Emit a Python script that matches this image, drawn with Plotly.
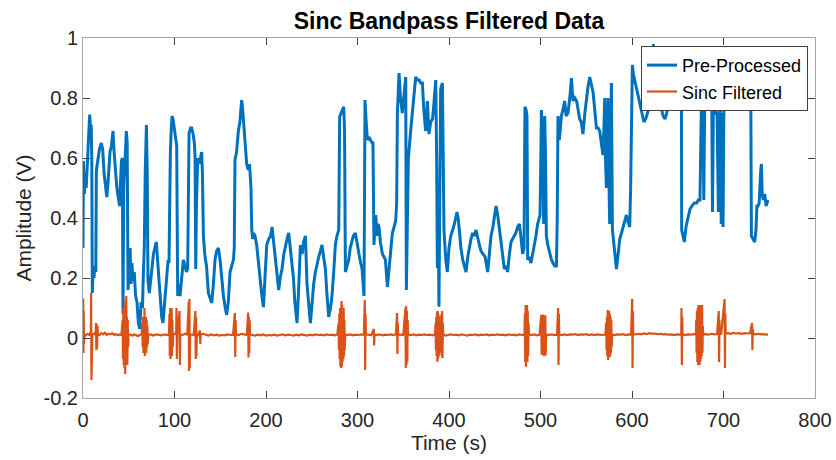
import plotly.graph_objects as go

# ---------------- data ----------------
# Pre-processed signal: (time s, amplitude V)
preprocessed = [
    (0.0, 0.30), (0.5, 0.59), (1.5, 0.48), (2.5, 0.55), (3.5, 0.50), (4.5, 0.58), (5.5, 0.66), (6.5, 0.70),
    (7.3, 0.745), (8.2, 0.70), (9.0, 0.71), (9.6, 0.60), (10.2, 0.15), (11.0, 0.23), (12.0, 0.20), (13.0, 0.24),
    (14.0, 0.22), (14.6, 0.56), (15.5, 0.58), (16.5, 0.60), (18.0, 0.63), (20.0, 0.65), (21.5, 0.63), (23.0, 0.55),
    (24.5, 0.51), (26.0, 0.47), (27.4, 0.52), (28.5, 0.58), (29.5, 0.62), (31.0, 0.64), (32.8, 0.69), (34.0, 0.62),
    (35.5, 0.55), (37.0, 0.50), (38.5, 0.47), (40.0, 0.44), (41.0, 0.52), (42.0, 0.59), (43.0, 0.60), (43.7, 0.08),
    (44.5, 0.50), (45.5, 0.58), (47.4, 0.69), (48.3, 0.65), (49.2, 0.16), (50.5, 0.22), (51.5, 0.30), (52.5, 0.18),
    (53.5, 0.25), (54.6, 0.19), (56.0, 0.22), (57.5, 0.14), (59.0, 0.12), (60.5, 0.05), (62.0, 0.03), (63.5, 0.12),
    (65.0, 0.10), (66.0, 0.22), (67.0, 0.30), (68.0, 0.55), (69.3, 0.71), (70.2, 0.55), (71.0, 0.19), (72.5, 0.15),
    (74.0, 0.20), (75.5, 0.24), (77.0, 0.28), (78.5, 0.30), (80.2, 0.32), (81.5, 0.26), (83.0, 0.20), (84.5, 0.12),
    (86.0, 0.07), (87.4, 0.05), (88.5, 0.09), (90.0, 0.15), (91.5, 0.22), (93.0, 0.26), (94.0, 0.25), (94.8, 0.55),
    (95.5, 0.62), (96.5, 0.70), (97.3, 0.74), (98.4, 0.73), (99.5, 0.70), (100.5, 0.68), (101.5, 0.66), (102.4, 0.64),
    (103.5, 0.14), (105.0, 0.18), (106.0, 0.14), (107.5, 0.20), (109.7, 0.26), (111.5, 0.24), (113.0, 0.22), (114.4, 0.23),
    (115.2, 0.60), (115.9, 0.683), (117.5, 0.70), (118.8, 0.70), (120.3, 0.68), (121.7, 0.65), (122.5, 0.60), (123.2, 0.23),
    (124.0, 0.45), (125.4, 0.60), (127.0, 0.58), (128.5, 0.61), (129.7, 0.62), (130.5, 0.55), (131.6, 0.337), (133.4, 0.27),
    (135.0, 0.24), (137.0, 0.15), (139.0, 0.13), (140.7, 0.117), (142.5, 0.18), (144.3, 0.26), (146.0, 0.29), (148.0, 0.30),
    (149.8, 0.26), (151.6, 0.19), (153.5, 0.14), (155.5, 0.10), (157.0, 0.077), (158.8, 0.12), (160.7, 0.22), (162.5, 0.24),
    (164.4, 0.26), (165.3, 0.30), (166.1, 0.593), (167.8, 0.62), (169.8, 0.69), (171.5, 0.72), (173.4, 0.793), (174.3, 0.77),
    (175.3, 0.73), (177.0, 0.66), (178.9, 0.58), (180.5, 0.56), (182.0, 0.58), (183.6, 0.50), (184.4, 0.36), (185.5, 0.33),
    (186.5, 0.35), (188.0, 0.34), (189.8, 0.31), (191.5, 0.26), (193.4, 0.19), (195.5, 0.14), (197.2, 0.103), (199.0, 0.20),
    (200.8, 0.31), (203.0, 0.33), (205.0, 0.34), (206.6, 0.37), (208.5, 0.31), (210.3, 0.26), (212.0, 0.22), (213.9, 0.16),
    (215.5, 0.20), (217.5, 0.23), (219.5, 0.28), (221.2, 0.31), (223.0, 0.33), (224.8, 0.35), (226.5, 0.30), (228.4, 0.26),
    (230.0, 0.20), (231.5, 0.12), (233.9, 0.05), (235.5, 0.15), (237.6, 0.31), (239.5, 0.28), (241.0, 0.32), (243.1, 0.34),
    (244.8, 0.18), (246.5, 0.12), (248.5, 0.05), (250.5, 0.12), (252.1, 0.18), (254.0, 0.22), (255.8, 0.25), (257.6, 0.27),
    (259.5, 0.29), (261.2, 0.31), (263.0, 0.27), (264.9, 0.23), (266.5, 0.15), (268.5, 0.07), (270.5, 0.10), (272.1, 0.14),
    (274.0, 0.22), (275.8, 0.31), (277.5, 0.34), (279.5, 0.36), (280.5, 0.738), (282.0, 0.75), (283.5, 0.76), (284.9, 0.771),
    (285.8, 0.70), (286.8, 0.22), (288.5, 0.24), (290.4, 0.26), (292.0, 0.30), (294.0, 0.33), (295.5, 0.34), (297.7, 0.35),
    (299.5, 0.31), (301.6, 0.28), (303.5, 0.25), (305.0, 0.23), (307.1, 0.14), (308.2, 0.793), (309.5, 0.72), (310.8, 0.66),
    (312.5, 0.67), (314.0, 0.66), (316.0, 0.65), (316.9, 0.65), (318.0, 0.31), (319.9, 0.41), (321.5, 0.34), (322.5, 0.38),
    (323.5, 0.37), (325.0, 0.32), (327.2, 0.28), (329.0, 0.27), (330.5, 0.26), (332.7, 0.17), (334.5, 0.23), (336.0, 0.28),
    (338.1, 0.35), (340.0, 0.37), (341.7, 0.39), (342.8, 0.45), (343.6, 0.75), (345.4, 0.883), (347.0, 0.80), (349.0, 0.75),
    (350.8, 0.80), (352.7, 0.87), (353.4, 0.16), (354.5, 0.40), (355.6, 0.60), (358.1, 0.69), (360.0, 0.75), (361.5, 0.80),
    (363.6, 0.87), (365.5, 0.86), (367.5, 0.86), (369.0, 0.85), (370.9, 0.85), (372.5, 0.76), (374.5, 0.69), (376.4, 0.79),
    (378.1, 0.68), (380.0, 0.72), (382.0, 0.73), (383.5, 0.78), (385.5, 0.86), (386.5, 0.60), (387.3, 0.233), (388.0, 0.50),
    (389.0, 0.104), (390.0, 0.50), (390.9, 0.83), (392.8, 0.85), (393.6, 0.60), (394.5, 0.36), (396.5, 0.26), (398.2, 0.22),
    (400.0, 0.30), (401.9, 0.34), (404.0, 0.36), (405.9, 0.38), (408.7, 0.42), (410.0, 0.40), (411.3, 0.36), (413.0, 0.30),
    (415.0, 0.26), (418.6, 0.22), (420.5, 0.27), (422.3, 0.31), (424.0, 0.33), (425.9, 0.35), (427.5, 0.34), (429.5, 0.36),
    (431.5, 0.33), (433.2, 0.31), (435.0, 0.29), (436.8, 0.28), (439.5, 0.27), (442.3, 0.22), (444.0, 0.28), (445.9, 0.34),
    (448.0, 0.37), (450.0, 0.41), (451.4, 0.44), (453.2, 0.41), (455.0, 0.36), (456.8, 0.32), (458.5, 0.27), (460.5, 0.23),
    (462.5, 0.24), (464.1, 0.22), (466.0, 0.28), (467.8, 0.32), (469.5, 0.33), (471.4, 0.34), (473.0, 0.35), (475.0, 0.37),
    (476.9, 0.38), (478.5, 0.34), (480.5, 0.28), (482.0, 0.30), (483.0, 0.771), (484.3, 0.76), (485.2, 0.74), (486.0, 0.26),
    (487.5, 0.27), (489.6, 0.25), (491.5, 0.28), (493.3, 0.31), (495.0, 0.34), (496.9, 0.38), (498.5, 0.40), (499.5, 0.41),
    (501.0, 0.76), (502.5, 0.60), (503.5, 0.38), (504.6, 0.74), (505.5, 0.60), (506.4, 0.34), (508.0, 0.31), (510.0, 0.28),
    (512.0, 0.26), (513.7, 0.25), (515.5, 0.24), (517.4, 0.24), (518.3, 0.40), (519.1, 0.74), (520.5, 0.66), (521.5, 0.69),
    (522.8, 0.74), (524.5, 0.76), (526.4, 0.79), (528.0, 0.74), (530.0, 0.75), (532.0, 0.80), (533.8, 0.866), (535.5, 0.79),
    (537.5, 0.80), (539.5, 0.79), (541.0, 0.76), (542.8, 0.73), (544.5, 0.72), (546.4, 0.68), (548.5, 0.75), (550.2, 0.80),
    (552.0, 0.84), (553.8, 0.87), (555.5, 0.85), (557.4, 0.82), (559.0, 0.77), (561.1, 0.70), (563.0, 0.70), (564.7, 0.69),
    (566.5, 0.65), (568.3, 0.61), (569.3, 0.70), (570.2, 0.80), (571.0, 0.60), (572.0, 0.50), (573.0, 0.70), (573.8, 0.80),
    (574.7, 0.55), (575.6, 0.38), (576.5, 0.60), (577.5, 0.85), (578.6, 0.36), (580.0, 0.31), (581.1, 0.28), (582.0, 0.25),
    (583.0, 0.23), (584.5, 0.27), (586.6, 0.33), (588.5, 0.35), (590.2, 0.37), (592.0, 0.39), (593.9, 0.41), (595.5, 0.39),
    (597.5, 0.37), (598.5, 0.50), (600.4, 0.91), (601.5, 0.88), (602.9, 0.86), (605.0, 0.83), (607.0, 0.80), (609.0, 0.77),
    (611.0, 0.74), (613.0, 0.72), (615.0, 0.73), (617.0, 0.75), (619.0, 0.78), (621.5, 0.86), (623.0, 0.90), (623.4, 0.98),
    (623.8, 0.91), (625.0, 0.90), (627.0, 0.86), (629.0, 0.83), (630.6, 0.80), (632.5, 0.76), (634.0, 0.74), (636.1, 0.73),
    (638.0, 0.75), (640.0, 0.79), (642.0, 0.82), (643.4, 0.87), (645.0, 0.85), (647.0, 0.82), (649.0, 0.84), (651.0, 0.86),
    (653.0, 0.85), (654.0, 0.84), (654.3, 0.36), (655.5, 0.34), (657.2, 0.32), (659.0, 0.37), (661.0, 0.40), (663.4, 0.43),
    (665.5, 0.44), (668.0, 0.45), (670.7, 0.45), (672.5, 0.46), (674.3, 0.46), (675.0, 0.60), (676.2, 0.85), (677.5, 0.80),
    (678.5, 0.46), (679.5, 0.82), (681.0, 0.84), (683.0, 0.80), (685.0, 0.78), (687.1, 0.80), (688.0, 0.42), (689.0, 0.80),
    (691.0, 0.76), (693.0, 0.74), (694.4, 0.42), (695.5, 0.80), (696.5, 0.75), (697.5, 0.38), (698.3, 0.75), (699.5, 0.37),
    (700.5, 0.80), (702.0, 0.82), (704.0, 0.83), (706.0, 0.85), (708.0, 0.84), (710.0, 0.82), (711.5, 0.77), (712.5, 0.80),
    (714.0, 0.82), (716.0, 0.83), (718.0, 0.84), (720.0, 0.85), (722.0, 0.84), (724.0, 0.83), (726.0, 0.84), (728.0, 0.83),
    (729.8, 0.82), (730.5, 0.34), (732.5, 0.33), (734.1, 0.32), (735.5, 0.36), (736.5, 0.44), (737.7, 0.44), (739.0, 0.45),
    (740.5, 0.55), (741.4, 0.58), (742.3, 0.48), (743.5, 0.46), (745.0, 0.48), (746.5, 0.44), (748.6, 0.46),
]

# Sinc band-pass filtered signal: (time s, amplitude V)
sinc_filtered = [
    (0.0, 0.010), (0.2, 0.132), (0.5, -0.050), (0.8, 0.090), (1.1, -0.020), (1.5, 0.012), (3.0, 0.008), (5.0, 0.014),
    (7.0, 0.010), (8.6, 0.020), (8.9, 0.150), (9.2, -0.140), (9.5, 0.100), (9.8, -0.060), (10.2, 0.012), (12.0, 0.015),
    (13.8, 0.010), (14.2, 0.050), (14.6, -0.040), (15.0, 0.045), (15.4, -0.035), (15.8, 0.040), (16.3, 0.012), (18.0, 0.010),
    (20.0, 0.016), (22.0, 0.012), (24.0, 0.018), (26.0, 0.010), (28.0, 0.014), (30.0, 0.012), (32.0, 0.016), (34.0, 0.010),
    (36.0, 0.013), (38.0, 0.009), (40.0, 0.012), (42.0, 0.010),
    (43.3, 0.060), (43.7, -0.070), (44.1, 0.100), (44.5, -0.090), (44.9, 0.080), (45.3, -0.100), (45.7, 0.125), (46.1, -0.120),
    (46.5, 0.090), (46.9, -0.080), (47.3, 0.140), (47.7, -0.060), (48.1, 0.070), (48.5, -0.090), (48.9, 0.060), (49.3, -0.030),
    (49.8, 0.010), (52.0, 0.012), (54.0, 0.008), (56.0, 0.012), (58.0, 0.010), (60.0, 0.006), (62.0, 0.010), (64.0, 0.012),
    (64.8, 0.050), (65.2, -0.030), (65.6, 0.070), (66.0, -0.050), (66.4, 0.060), (66.8, -0.040), (67.2, 0.100), (67.6, -0.060),
    (68.0, 0.050), (68.4, -0.040), (68.8, 0.070), (69.2, -0.050), (69.6, 0.060), (70.0, -0.030), (70.4, 0.040), (70.8, -0.020),
    (71.3, 0.010), (74.0, 0.012), (77.0, 0.008), (80.0, 0.012), (83.0, 0.010), (86.0, 0.009), (89.0, 0.012), (92.0, 0.010),
    (94.0, 0.012), (94.5, 0.080), (94.9, -0.060), (95.3, 0.100), (95.7, -0.070), (96.1, 0.070), (96.5, -0.040), (96.9, 0.100),
    (97.3, -0.060), (97.7, 0.060), (98.1, -0.030), (98.6, 0.012), (100.0, 0.014), (101.8, 0.012), (102.2, 0.100), (102.6, -0.070),
    (103.0, 0.012), (105.5, 0.090), (105.9, -0.090), (106.3, 0.012), (108.0, 0.010), (110.0, 0.012), (112.0, 0.014), (114.0, 0.010),
    (115.5, 0.120), (115.9, -0.110), (116.3, 0.130), (116.7, -0.100), (117.1, 0.012), (119.0, 0.012), (121.0, 0.010), (122.8, 0.090),
    (123.2, -0.070), (123.6, 0.070), (124.0, -0.060), (124.4, 0.012), (126.0, 0.010), (127.8, 0.025), (128.2, -0.020), (128.6, 0.012),
    (131.0, 0.014), (134.0, 0.010), (137.0, 0.008), (140.0, 0.012), (143.0, 0.009), (146.0, 0.011), (149.0, 0.008), (152.0, 0.010),
    (155.0, 0.009), (158.0, 0.012), (161.0, 0.010), (164.0, 0.011), (166.0, 0.083), (166.4, -0.063), (166.8, 0.060), (167.2, 0.012),
    (170.0, 0.010), (173.0, 0.014), (176.0, 0.012), (179.0, 0.010), (180.5, 0.085), (180.9, -0.065), (181.3, 0.070), (181.7, -0.050),
    (182.1, 0.060), (182.5, 0.012), (185.0, 0.010), (188.0, 0.008), (191.0, 0.011), (194.0, 0.009), (197.0, 0.012), (200.0, 0.008),
    (203.0, 0.010), (206.0, 0.009), (209.0, 0.011), (212.0, 0.008), (215.0, 0.010), (218.0, 0.012), (221.0, 0.009), (224.0, 0.011),
    (227.0, 0.010), (230.0, 0.008), (233.0, 0.011), (236.0, 0.009), (239.0, 0.012), (242.0, 0.010), (245.0, 0.008), (248.0, 0.011),
    (251.0, 0.009), (254.0, 0.012), (257.0, 0.010), (260.0, 0.011), (263.0, 0.009), (266.0, 0.012), (269.0, 0.010), (272.0, 0.011),
    (275.0, 0.009), (278.0, 0.012),
    (279.3, 0.050), (279.7, -0.040), (280.1, 0.080), (280.5, -0.070), (280.9, 0.100), (281.3, -0.090), (281.7, 0.110), (282.1, -0.100),
    (282.5, 0.123), (282.9, -0.095), (283.3, 0.110), (283.7, -0.080), (284.1, 0.090), (284.5, -0.070), (284.9, 0.100), (285.3, -0.060),
    (285.7, 0.060), (286.1, -0.040), (286.6, 0.012), (289.0, 0.010), (292.0, 0.012), (295.0, 0.009), (298.0, 0.011), (301.0, 0.010),
    (304.0, 0.012), (307.0, 0.010), (308.0, 0.127), (308.4, -0.107), (308.8, 0.080), (309.2, 0.012), (312.0, 0.011), (315.0, 0.009),
    (317.8, 0.030), (318.2, -0.025), (318.6, 0.012), (321.0, 0.010), (324.0, 0.012), (327.0, 0.009), (330.0, 0.011), (333.0, 0.010),
    (336.0, 0.012), (339.0, 0.010), (342.0, 0.012), (343.2, 0.083), (343.6, -0.053), (344.0, 0.050), (344.4, 0.012), (347.0, 0.011),
    (350.0, 0.010), (352.4, 0.100), (352.8, -0.100), (353.2, 0.107), (353.6, -0.090), (354.0, 0.090), (354.4, -0.080), (354.8, 0.060),
    (355.2, 0.012), (358.0, 0.010), (361.0, 0.012), (364.0, 0.009), (367.0, 0.011), (370.0, 0.010), (373.0, 0.012), (376.0, 0.010),
    (379.0, 0.011), (382.0, 0.009), (384.8, 0.012),
    (385.3, 0.050), (385.7, -0.040), (386.1, 0.070), (386.5, -0.060), (386.9, 0.088), (387.3, -0.079), (387.7, 0.090), (388.1, -0.070),
    (388.5, 0.080), (388.9, -0.060), (389.3, 0.070), (389.7, -0.050), (390.1, 0.060), (390.5, -0.040), (390.9, 0.050), (391.3, -0.030),
    (391.7, 0.080), (392.1, -0.060), (392.5, 0.090), (392.9, -0.067), (393.3, 0.050), (393.7, 0.012),
    (396.0, 0.008), (399.0, 0.010), (402.0, 0.012), (405.0, 0.010), (408.0, 0.011), (411.0, 0.009), (414.0, 0.012), (417.0, 0.010),
    (420.0, 0.008), (423.0, 0.011), (426.0, 0.010), (429.0, 0.012), (432.0, 0.009), (435.0, 0.011), (438.0, 0.010), (441.0, 0.012),
    (444.0, 0.009), (447.0, 0.011), (450.0, 0.010), (453.0, 0.012), (456.0, 0.010), (459.0, 0.011), (462.0, 0.009), (465.0, 0.012),
    (468.0, 0.010), (471.0, 0.011), (474.0, 0.009), (477.0, 0.012), (480.0, 0.010), (482.5, 0.011),
    (482.9, 0.080), (483.3, -0.080), (483.7, 0.110), (484.1, -0.096), (484.5, 0.100), (484.9, -0.090), (485.3, 0.110), (485.7, -0.080),
    (486.1, 0.090), (486.5, -0.060), (486.9, 0.050), (487.4, 0.012), (490.0, 0.010), (493.0, 0.012), (496.0, 0.009), (499.0, 0.011),
    (500.8, 0.077), (501.2, -0.056), (501.6, 0.012), (503.2, 0.078), (503.6, -0.060), (504.0, 0.012), (505.3, 0.075), (505.7, -0.058),
    (506.1, 0.012), (509.0, 0.010), (512.0, 0.012), (515.0, 0.010), (518.0, 0.011), (519.3, 0.100), (519.7, -0.090), (520.1, 0.080),
    (520.5, 0.012), (523.0, 0.010), (526.0, 0.012), (529.0, 0.010), (532.0, 0.012), (535.0, 0.011), (538.0, 0.013), (541.0, 0.010),
    (544.0, 0.012), (547.0, 0.011), (550.0, 0.013), (553.0, 0.010), (556.0, 0.012), (559.0, 0.010), (562.0, 0.012), (565.0, 0.011),
    (568.0, 0.010), (571.0, 0.012),
    (571.8, 0.050), (572.2, -0.040), (572.6, 0.070), (573.0, -0.060), (573.4, 0.093), (573.8, -0.073), (574.2, 0.085), (574.6, -0.070),
    (575.0, 0.090), (575.4, -0.065), (575.8, 0.080), (576.2, -0.060), (576.6, 0.070), (577.0, -0.050), (577.4, 0.060), (577.8, -0.030),
    (578.3, 0.012), (581.0, 0.010), (584.0, 0.012), (587.0, 0.011), (590.0, 0.013), (593.0, 0.010), (596.0, 0.012), (599.0, 0.011),
    (600.2, 0.130), (600.6, -0.100), (601.0, 0.090), (601.4, 0.012), (604.0, 0.012), (607.0, 0.014), (610.0, 0.012), (613.0, 0.015),
    (616.0, 0.013), (619.0, 0.016), (622.0, 0.014), (625.0, 0.015), (628.0, 0.013), (631.0, 0.014), (634.0, 0.012), (637.0, 0.013),
    (640.0, 0.011), (643.0, 0.012), (646.0, 0.010), (649.0, 0.012), (652.0, 0.011), (653.8, 0.012), (654.1, 0.100), (654.5, -0.090),
    (654.9, 0.070), (655.3, 0.012), (658.0, 0.010), (661.0, 0.012), (664.0, 0.011), (667.0, 0.013), (669.8, 0.012),
    (670.2, 0.060), (670.6, -0.050), (671.0, 0.090), (671.4, -0.080), (671.8, 0.100), (672.2, -0.090), (672.6, 0.110), (673.0, -0.085),
    (673.4, 0.100), (673.8, -0.090), (674.2, 0.110), (674.6, -0.080), (675.0, 0.090), (675.4, -0.070), (675.8, 0.100), (676.2, -0.060),
    (676.6, 0.110), (677.0, -0.050), (677.4, 0.040), (677.9, 0.012), (681.0, 0.013), (684.0, 0.011), (687.0, 0.014), (690.0, 0.012),
    (693.0, 0.013), (694.8, 0.090), (695.2, -0.080), (695.6, 0.060), (696.0, 0.012), (697.5, 0.014), (701.2, 0.130), (701.6, -0.100),
    (702.0, 0.080), (702.4, 0.015), (705.0, 0.016), (708.0, 0.014), (711.0, 0.017), (714.0, 0.015), (717.0, 0.016), (720.0, 0.014),
    (723.0, 0.016), (726.0, 0.015), (729.0, 0.016), (731.2, 0.050), (731.6, -0.040), (732.0, 0.030), (732.4, 0.014), (735.0, 0.012),
    (738.0, 0.014), (741.0, 0.012), (744.0, 0.013), (746.5, 0.011), (748.6, 0.012),
]

x_ticks = [0, 100, 200, 300, 400, 500, 600, 700, 800]
y_ticks = [-0.2, 0, 0.2, 0.4, 0.6, 0.8, 1]
y_tick_labels = ["-0.2", "0", "0.2", "0.4", "0.6", "0.8", "1"]

# ---------------- figure ----------------
FONT = "Liberation Sans, Arial, Helvetica, sans-serif"
pre_t = [p[0] for p in preprocessed]
pre_v = [p[1] for p in preprocessed]
sinc_t = [p[0] for p in sinc_filtered]
sinc_v = [p[1] for p in sinc_filtered]

fig = go.Figure()
fig.add_trace(go.Scatter(x=pre_t, y=pre_v, mode="lines", name="Pre-Processed",
                         line=dict(color="#0072BD", width=3)))
fig.add_trace(go.Scatter(x=sinc_t, y=sinc_v, mode="lines", name="Sinc Filtered",
                         line=dict(color="#D95319", width=2.2)))

axis_common = dict(
    showgrid=False, zeroline=False, showline=True, linecolor="#a6a6a6", linewidth=1,
    mirror="ticks", ticks="inside", ticklen=7, tickwidth=1, tickcolor="#404040",
    tickfont=dict(family=FONT, size=20, color="#262626"),
)

fig.update_layout(
    width=836, height=460,
    margin=dict(l=83, r=21, t=38, b=62, autoexpand=False),
    paper_bgcolor="white", plot_bgcolor="white",
    title=dict(text="<b>Sinc Bandpass Filtered Data</b>", x=0.5, xref="paper", xanchor="center",
               y=0.955, yref="container", yanchor="middle",
               font=dict(family=FONT, size=23, color="black")),
    xaxis=dict(range=[0, 800], tickvals=x_ticks, ticktext=[str(v) for v in x_ticks],
               ticklabelstandoff=4,
               title=dict(text="Time (s)", font=dict(family=FONT, size=21, color="#262626"), standoff=3),
               **axis_common),
    yaxis=dict(range=[-0.2, 1], tickvals=y_ticks, ticktext=y_tick_labels,
               title=dict(text="Amplitude (V)", font=dict(family=FONT, size=21, color="#262626"), standoff=6),
               **axis_common),
    legend=dict(x=0.9904, y=0.978, xanchor="right", yanchor="top",
                bgcolor="white", bordercolor="#404040", borderwidth=1,
                font=dict(family=FONT, size=18, color="black"),
                tracegroupgap=0, itemwidth=30),
    showlegend=True,
)

fig.write_html("out.html")
